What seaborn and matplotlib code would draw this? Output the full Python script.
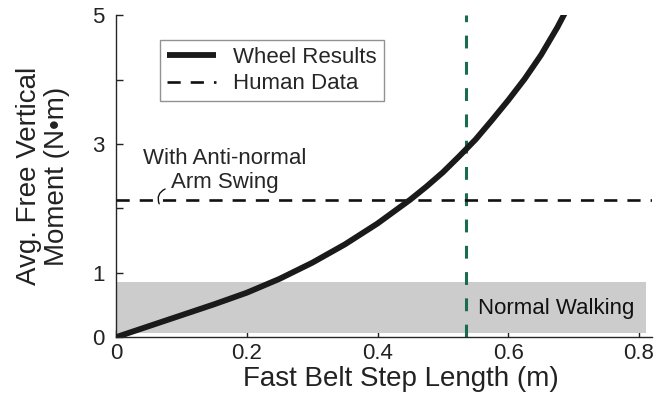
import numpy as np
import pandas as pd
import matplotlib.pyplot as plt
import seaborn as sns

# wheel model results
step_length = [0, 0.05, 0.1, 0.15, 0.2, 0.25, 0.3, 0.35, 0.4, 0.45, 0.475, 0.5, 0.525,
               0.55, 0.575, 0.6, 0.625, 0.65, 0.675, 0.69]
free_moment = [0, 0.17, 0.34, 0.51, 0.69, 0.905, 1.155, 1.44, 1.765, 2.135, 2.34, 2.56, 2.81,
               3.07, 3.37, 3.68, 4.01, 4.38, 4.81, 5.1]

# human data
anti_normal_moment = 2.13
human_step_length = 0.535
normal_band = (0.07, 0.86)
band_xmax = 0.81

x_ticks = [0, 0.2, 0.4, 0.6, 0.8]
x_ticklabels = ['0', '0.2', '0.4', '0.6', '0.8']
y_ticks = [0, 1, 2, 3, 4, 5]
y_ticklabels = ['0', '1', '', '3', '', '5']

sns.set_style("ticks")
plt.rcParams['font.family'] = ['Liberation Sans', 'DejaVu Sans']

fig = plt.figure(figsize=(6.57, 3.99), dpi=100)
ax = fig.add_axes([0.1766, 0.155, 0.816, 0.807])

df = pd.DataFrame({'x': step_length, 'y': free_moment})

ax.fill_between([0, band_xmax], normal_band[0], normal_band[1], color='#cccccc', lw=0, zorder=1)
ax.text(0.553, 0.45, 'Normal Walking', fontsize=16, va='center', ha='left', color='#111111')

ax.axvline(human_step_length, color='#1b6b4f', lw=2.2, dashes=(4.2, 4.4), zorder=2)
ax.plot([0, 0.82], [anti_normal_moment] * 2, color='#111111', lw=1.9, dashes=(5, 3.8), zorder=3,
        label='Human Data')
sns.lineplot(data=df, x='x', y='y', ax=ax, color='#1a1a1a', lw=4.2, zorder=4,
             label='Wheel Results', solid_joinstyle='round', solid_capstyle='butt')

# little leader from the label down to the dashed line
ax.annotate('', xy=(0.066, 2.07), xytext=(0.075, 2.30),
            arrowprops=dict(arrowstyle='-', color='#111111', lw=1, shrinkA=0, shrinkB=0,
                            connectionstyle='arc3,rad=0.45'))
ax.text(0.166, 2.59, 'With Anti-normal\nArm Swing', fontsize=16, ha='center', va='center',
        linespacing=1.15)

ax.set_xlim(0, 0.82)
ax.set_ylim(0, 5)
ax.set_xticks(x_ticks)
ax.set_xticklabels(x_ticklabels)
ax.set_yticks(y_ticks)
ax.set_yticklabels(y_ticklabels)
ax.tick_params(direction='in', length=5, width=1, labelsize=16, colors='#222222')
ax.tick_params(axis='y', pad=8)
ax.tick_params(axis='x', pad=4)
sns.despine(ax=ax)
ax.spines['left'].set_linewidth(1)
ax.spines['bottom'].set_linewidth(1)

ax.set_xlabel('Fast Belt Step Length (m)', fontsize=20, color='#222222')
ax.xaxis.set_label_coords(0.532, -0.09)
ax.set_ylabel('Avg. Free Vertical\nMoment (N\u2022m)', fontsize=20, color='#222222',
              linespacing=1.1)
ax.yaxis.set_label_coords(-0.086, 0.5)

h, l = ax.get_legend_handles_labels()
order = [l.index('Wheel Results'), l.index('Human Data')]
leg = ax.legend([h[i] for i in order], [l[i] for i in order], loc='upper left',
                bbox_to_anchor=(0.082, 0.922), borderaxespad=0, fontsize=16, frameon=True,
                fancybox=False, edgecolor='#777777', handlelength=2.2, handletextpad=0.8,
                borderpad=0.3, labelspacing=0.25)
leg.get_frame().set_linewidth(1)

fig.savefig('out.png', dpi=100)
